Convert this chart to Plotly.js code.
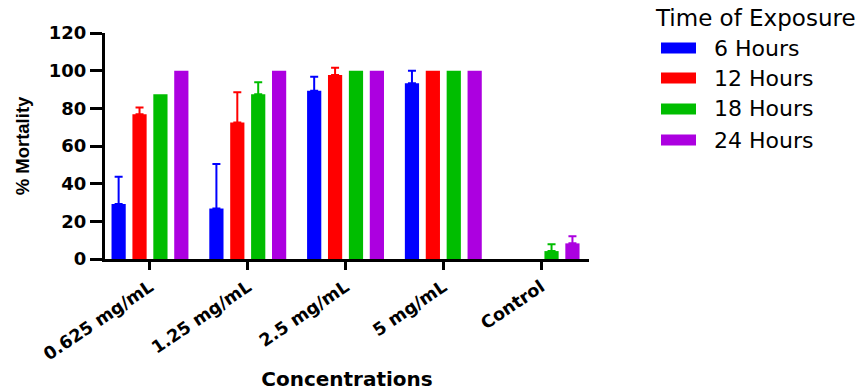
<!DOCTYPE html>
<html>
<head>
<meta charset="utf-8">
<script src="https://cdn.plot.ly/plotly-3.0.1.min.js"></script>
<style>html,body{margin:0;padding:0;background:#fff;}#chart{width:860px;height:391px;}</style>
</head>
<body>
<div id="chart"></div>
<script>
// ---- data ----
const categories = ["0.625 mg/mL", "1.25 mg/mL", "2.5 mg/mL", "5 mg/mL", "Control"];
const seriesNames = ["6 Hours", "12 Hours", "18 Hours", "24 Hours"];
const hours6  = [29.2, 26.8, 89.4, 93.3, 0];
const hours12 = [76.9, 72.5, 97.7, 100, 0];
const hours18 = [87.5, 87.5, 100, 100, 4.2];
const hours24 = [100, 100, 100, 100, 8.3];
const err6  = [14.5, 23.6, 7.4, 6.7, null];
const err12 = [3.6, 16.0, 3.9, null, null];
const err18 = [null, 6.3, null, null, 3.6];
const err24 = [null, null, null, null, 3.8];
const yTickVals = [0, 20, 40, 60, 80, 100, 120];
const legendTitle = "Time of Exposure";
const xTitle = "Concentrations";
const yTitle = "% Mortality";

const colors = ["#0000FF", "#FF0000", "#00BD00", "#AC00E0"];
const values = [hours6, hours12, hours18, hours24];
const errors = [err6, err12, err18, err24];

const W = 860, H = 391;
const M = {l: 105, r: 271, t: 33, b: 132};
const pw = W - M.l - M.r, ph = H - M.t - M.b;
const px = x => (x - M.l) / pw;
const py = y => (H - M.b - y) / ph;

const traces = values.map((v, i) => ({
  type: "bar",
  name: seriesNames[i],
  x: categories,
  y: v,
  marker: {color: colors[i], line: {width: 0}},
  error_y: {
    type: "data", symmetric: false,
    array: errors[i].map(e => (e === null ? NaN : e)),
    arrayminus: errors[i].map(e => (e === null ? NaN : 0)),
    color: colors[i], thickness: 2, width: 4, visible: true
  },
  showlegend: false,
  hoverinfo: "x+y"
}));

const shapes = [];
const annotations = [];
annotations.push({
  xref: "paper", yref: "paper", x: px(653), y: py(18), xanchor: "left", yanchor: "middle",
  text: legendTitle, showarrow: false,
  font: {family: "DejaVu Sans", size: 23, color: "#000"}
});
const rowY = [48, 78, 109, 140];
seriesNames.forEach((n, i) => {
  shapes.push({
    type: "rect", xref: "paper", yref: "paper",
    x0: px(661), x1: px(696), y0: py(rowY[i] - 5.5), y1: py(rowY[i] + 5.5),
    fillcolor: colors[i], line: {width: 0}
  });
  annotations.push({
    xref: "paper", yref: "paper", x: px(712), y: py(rowY[i]), xanchor: "left", yanchor: "middle",
    text: n, showarrow: false,
    font: {family: "DejaVu Sans", size: 22, color: "#000"}
  });
});

const layout = {
  width: W, height: H,
  margin: M,
  paper_bgcolor: "#fff", plot_bgcolor: "#fff",
  barmode: "group",
  bargap: 0.145,
  bargroupgap: 0.32,
  showlegend: false,
  xaxis: {
    type: "category",
    range: [-0.46, 4.49],
    showline: true, linecolor: "#000", linewidth: 3,
    ticks: "outside", ticklen: 8, tickwidth: 3, tickcolor: "#000",
    tickangle: -34,
    tickfont: {family: "DejaVu Sans", size: 17.5, weight: 700, color: "#000"},
    showgrid: false, zeroline: false,
    title: {text: xTitle, standoff: 13, font: {family: "DejaVu Sans", size: 20, weight: 700, color: "#000"}}
  },
  yaxis: {
    range: [0, 120],
    tickvals: yTickVals,
    showline: true, linecolor: "#000", linewidth: 3,
    ticks: "outside", ticklen: 12, tickwidth: 3, tickcolor: "#000",
    tickfont: {family: "DejaVu Sans", size: 18, weight: 700, color: "#000"},
    showgrid: false, zeroline: false,
    title: {text: yTitle, standoff: 15, font: {family: "Liberation Sans", size: 18.5, weight: 700, color: "#000"}}
  },
  shapes: shapes,
  annotations: annotations
};

Plotly.newPlot("chart", traces, layout, {displayModeBar: false, staticPlot: true});
</script>
</body>
</html>
